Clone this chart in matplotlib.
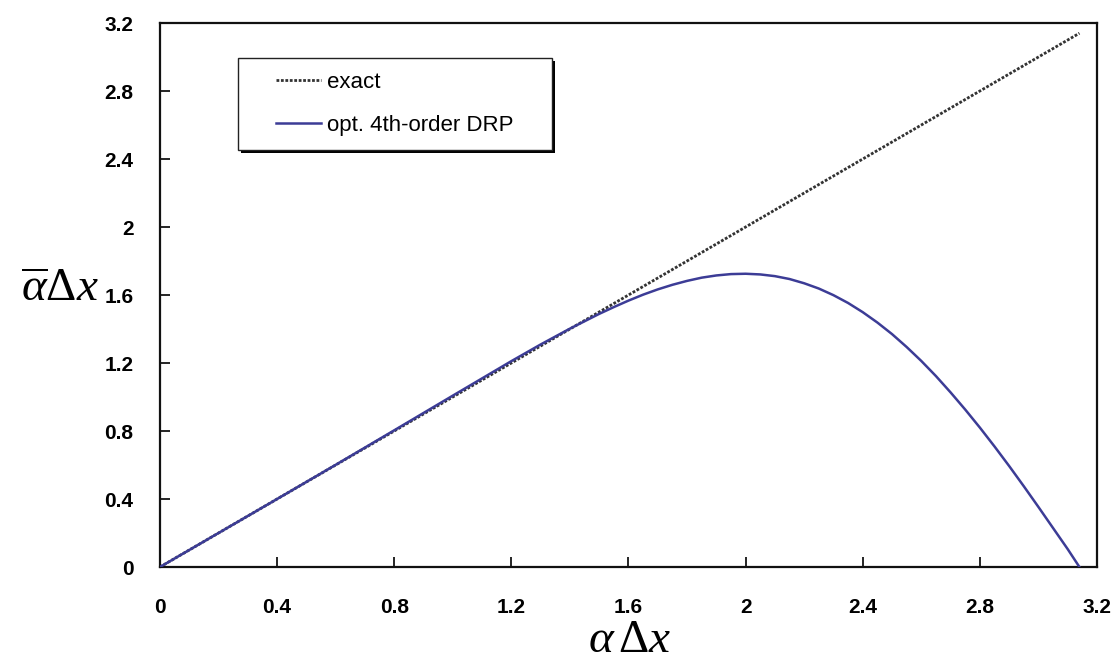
import matplotlib
matplotlib.use("Agg")
import matplotlib.pyplot as plt
from matplotlib.patches import Rectangle

# Data
exact_x = [0.0, 3.14]
exact_y = [0.0, 3.14]

drp_x = [0.0, 0.2, 0.4, 0.6, 0.8, 1.0, 1.2, 1.3, 1.4, 1.5, 1.55, 1.6, 1.65, 1.7,
         1.75, 1.8, 1.85, 1.9, 1.95, 2.0, 2.05, 2.1, 2.15, 2.2, 2.25, 2.3, 2.35,
         2.4, 2.45, 2.5, 2.55, 2.6, 2.65, 2.7, 2.75, 2.8, 2.85, 2.9, 2.95, 3.0,
         3.05, 3.1, 3.14]
drp_y = [0.0, 0.200, 0.400, 0.601, 0.804, 1.008, 1.211, 1.309, 1.402, 1.489,
         1.529, 1.567, 1.602, 1.633, 1.660, 1.683, 1.702, 1.715, 1.723, 1.725,
         1.721, 1.711, 1.694, 1.669, 1.638, 1.599, 1.553, 1.499, 1.438, 1.370,
         1.294, 1.212, 1.123, 1.027, 0.926, 0.820, 0.709, 0.594, 0.475, 0.353,
         0.229, 0.105, 0.0]

ticks = [0, 0.4, 0.8, 1.2, 1.6, 2, 2.4, 2.8, 3.2]
tick_labels = ["0", "0.4", "0.8", "1.2", "1.6", "2", "2.4", "2.8", "3.2"]

plt.rcParams['mathtext.fontset'] = 'custom'
plt.rcParams['mathtext.rm'] = 'Liberation Serif'
plt.rcParams['mathtext.it'] = 'Liberation Serif:italic'

fig = plt.figure(figsize=(11.17, 6.61), dpi=100)
ax = fig.add_axes([0.1432, 0.1422, 0.9821 - 0.1432, 0.9652 - 0.1422])

ax.plot(exact_x, exact_y, linestyle=(0, (1, 0.6)), color='#333333', lw=2.0,
        label='exact', zorder=2)
ax.plot(drp_x, drp_y, color='#3c3c96', lw=1.8, label='opt. 4th-order DRP', zorder=3)

ax.set_xlim(0, 3.2)
ax.set_ylim(0, 3.2)
ax.set_xticks(ticks)
ax.set_xticklabels(tick_labels)
ax.set_yticks(ticks)
ax.set_yticklabels(tick_labels)
ax.tick_params(direction='in', length=7, width=1.2, labelsize=15)
ax.tick_params(axis='x', pad=22)
ax.tick_params(axis='y', pad=19)
for lab in ax.get_xticklabels() + ax.get_yticklabels():
    lab.set_fontfamily('Liberation Sans')
    lab.set_fontweight('bold')
for s in ax.spines.values():
    s.set_linewidth(1.6)
    s.set_color('#111111')

fig.text(0.564, 0.014, r'$\alpha\,\Delta x$', fontsize=34, ha='center', va='baseline')
fig.text(0.054, 0.562, r'$\overline{\alpha}\Delta x$', fontsize=34, ha='center', va='center')

# legend frame with shadow
bx, by, bw, bh = 0.0832, 0.7665, 0.3352, 0.169
ax.add_patch(Rectangle((bx + 0.0032, by - 0.0055), bw, bh, transform=ax.transAxes,
                       facecolor='black', edgecolor='none', zorder=5))
ax.add_patch(Rectangle((bx, by), bw, bh, transform=ax.transAxes,
                       facecolor='white', edgecolor='#222222', lw=1.0, zorder=6))
leg = ax.legend(loc='center', bbox_to_anchor=(bx + bw / 2, by + bh / 2), borderaxespad=0,
                frameon=False, prop={'family': 'Liberation Sans', 'size': 16},
                handlelength=2.0, handletextpad=0.3, labelspacing=1.0,
                borderpad=0.2)
leg.set_zorder(7)

fig.savefig('out.png', dpi=100)
